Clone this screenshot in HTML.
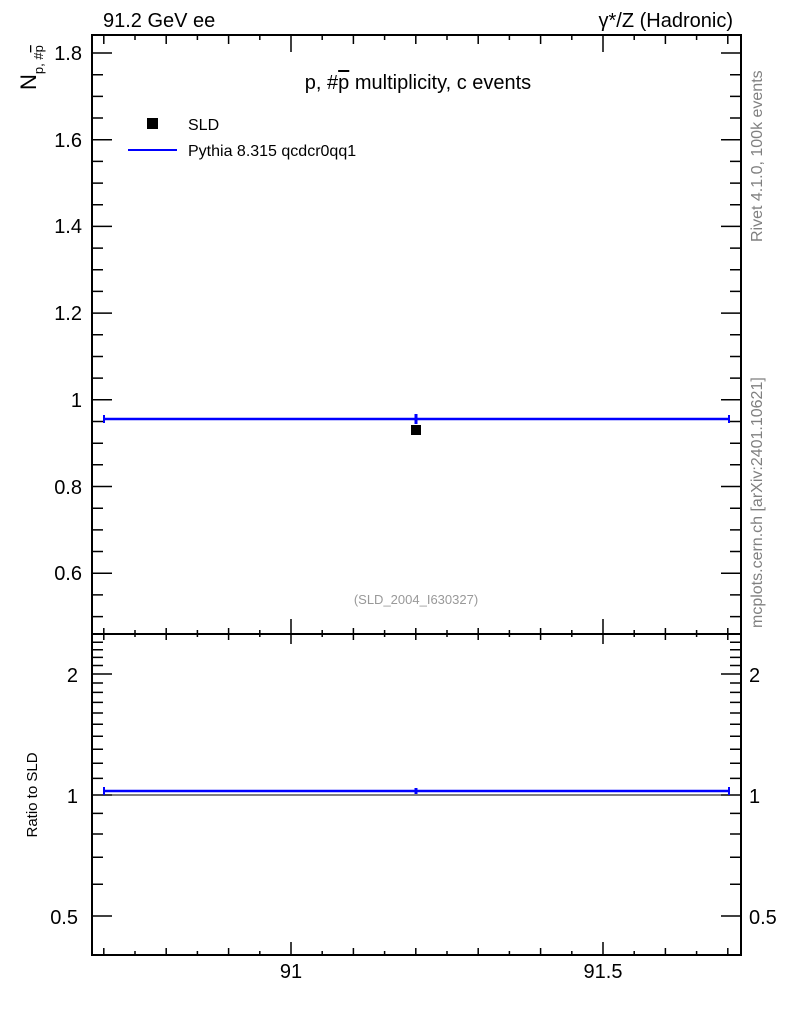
<!DOCTYPE html>
<html><head><meta charset="utf-8"><style>body{margin:0;background:#fff}svg{display:block}</style></head><body>
<svg width="786" height="1024" xmlns="http://www.w3.org/2000/svg" font-family="Liberation Sans, Arial, sans-serif">
<rect width="786" height="1024" fill="#fff"/>
<g stroke="#000" stroke-width="1.5" fill="none">
<path d="M92 53h20M92 139.7h20M92 226.4h20M92 313.1h20M92 399.8h20M92 486.5h20M92 573.2h20M741 53h-20M741 139.7h-20M741 226.4h-20M741 313.1h-20M741 399.8h-20M741 486.5h-20M741 573.2h-20"/>
<path d="M92 74.7h11M92 96.4h11M92 118h11M92 161.4h11M92 183.1h11M92 204.7h11M92 248.1h11M92 269.8h11M92 291.4h11M92 334.8h11M92 356.5h11M92 378.1h11M92 421.5h11M92 443.2h11M92 464.8h11M92 508.2h11M92 529.9h11M92 551.5h11M92 594.9h11M92 616.6h11"/>
<path d="M741 74.7h-11M741 96.4h-11M741 118h-11M741 161.4h-11M741 183.1h-11M741 204.7h-11M741 248.1h-11M741 269.8h-11M741 291.4h-11M741 334.8h-11M741 356.5h-11M741 378.1h-11M741 421.5h-11M741 443.2h-11M741 464.8h-11M741 508.2h-11M741 529.9h-11M741 551.5h-11M741 594.9h-11M741 616.6h-11"/>
<path d="M92 916h20M92 795h20M92 674h20M741 916h-20M741 795h-20M741 674h-20"/>
<path d="M92 884.2h11M92 857.3h11M92 834h11M92 813.4h11M92 778.4h11M92 763.2h11M92 749.2h11M92 736.3h11M92 724.2h11M92 713h11M92 702.4h11M92 692.4h11M92 683h11M92 665.5h11M92 657.4h11M92 649.8h11M92 642.2h11"/>
<path d="M741 884.2h-11M741 857.3h-11M741 834h-11M741 813.4h-11M741 778.4h-11M741 763.2h-11M741 749.2h-11M741 736.3h-11M741 724.2h-11M741 713h-11M741 702.4h-11M741 692.4h-11M741 683h-11M741 665.5h-11M741 657.4h-11M741 649.8h-11M741 642.2h-11"/>
<path d="M291 36v16M603 36v16M291 619v25M603 619v25M291 954v-12M603 954v-12"/>
<path d="M103.8 36v8M166.2 36v8M228.6 36v8M353.4 36v8M415.8 36v8M478.2 36v8M540.6 36v8M665.4 36v8M727.8 36v8
M103.8 628v12M166.2 628v12M228.6 628v12M353.4 628v12M415.8 628v12M478.2 628v12M540.6 628v12M665.4 628v12M727.8 628v12
M103.8 954v-6M166.2 954v-6M228.6 954v-6M353.4 954v-6M415.8 954v-6M478.2 954v-6M540.6 954v-6M665.4 954v-6M727.8 954v-6"/>
<path d="M135 36v4M197.4 36v4M259.8 36v4M322.2 36v4M384.6 36v4M447 36v4M509.4 36v4M571.8 36v4M634.2 36v4M696.6 36v4
M135 630v7M197.4 630v7M259.8 630v7M322.2 630v7M384.6 630v7M447 630v7M509.4 630v7M571.8 630v7M634.2 630v7M696.6 630v7
M135 954v-3M197.4 954v-3M259.8 954v-3M322.2 954v-3M384.6 954v-3M447 954v-3M509.4 954v-3M571.8 954v-3M634.2 954v-3M696.6 954v-3"/>
</g>
<rect x="92" y="35" width="649" height="920" fill="none" stroke="#000" stroke-width="2"/>
<line x1="92" y1="634" x2="741" y2="634" stroke="#000" stroke-width="2"/>
<line x1="92" y1="795" x2="741" y2="795" stroke="#000" stroke-width="1"/>
<text x="103" y="27" font-size="20">91.2 GeV ee</text>
<text x="733" y="27" font-size="20" text-anchor="end">γ*/Z (Hadronic)</text>
<text x="418" y="89" font-size="20" text-anchor="middle">p, #<tspan text-decoration="overline">p</tspan> multiplicity, c events</text>
<g font-size="20" text-anchor="end">
<text x="82" y="60">1.8</text><text x="82" y="147">1.6</text><text x="82" y="233">1.4</text><text x="82" y="320">1.2</text><text x="82" y="407">1</text><text x="82" y="494">0.8</text><text x="82" y="580">0.6</text>
<text x="78" y="682">2</text><text x="78" y="803">1</text><text x="78" y="924">0.5</text>
</g>
<g font-size="20"><text x="749" y="682">2</text><text x="749" y="803">1</text><text x="749" y="924">0.5</text></g>
<g font-size="20" text-anchor="middle"><text x="291" y="978">91</text><text x="603" y="978">91.5</text></g>
<text transform="translate(36,90) rotate(-90)" font-size="22">N<tspan font-size="13" dy="7">p, #<tspan text-decoration="overline">p</tspan></tspan></text>
<text transform="translate(37,795) rotate(-90)" font-size="15" text-anchor="middle">Ratio to SLD</text>
<text transform="translate(762,242) rotate(-90)" font-size="16" fill="#808080">Rivet 4.1.0,  100k events</text>
<text transform="translate(762,628) rotate(-90)" font-size="16" fill="#808080">mcplots.cern.ch [arXiv:2401.10621]</text>
<text x="416" y="604" font-size="13" fill="#999" text-anchor="middle">(SLD_2004_I630327)</text>
<rect x="147" y="118" width="11" height="11" fill="#000"/>
<text x="188" y="130" font-size="16">SLD</text>
<line x1="128" y1="150" x2="177" y2="150" stroke="#00f" stroke-width="2"/>
<text x="188" y="156" font-size="16">Pythia 8.315 qcdcr0qq1</text>
<line x1="104" y1="419" x2="729" y2="419" stroke="#00f" stroke-width="2.5"/>
<line x1="104" y1="415" x2="104" y2="423" stroke="#00f" stroke-width="2"/>
<line x1="729" y1="415" x2="729" y2="423" stroke="#00f" stroke-width="2"/>
<line x1="416" y1="414" x2="416" y2="424" stroke="#00f" stroke-width="3"/>
<rect x="411" y="425" width="10" height="10" fill="#000"/>
<line x1="104" y1="791" x2="729" y2="791" stroke="#00f" stroke-width="2.5"/>
<line x1="104" y1="787" x2="104" y2="795" stroke="#00f" stroke-width="2"/>
<line x1="729" y1="787" x2="729" y2="795" stroke="#00f" stroke-width="2"/>
<line x1="416" y1="788" x2="416" y2="794" stroke="#00f" stroke-width="3"/>
</svg>
</body></html>
